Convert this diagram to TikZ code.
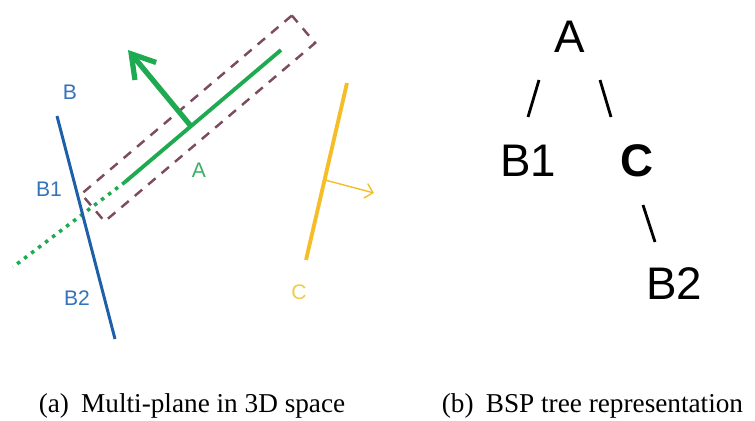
\documentclass[tikz,border=0pt]{standalone}
\usepackage{fontspec}
\setmainfont{Liberation Sans}
\newfontfamily\captionfont{Liberation Serif}
\usepackage{xcolor}
\definecolor{planegreen}{RGB}{30,170,80}
\definecolor{labelgreen}{RGB}{60,175,100}
\definecolor{planeblue}{RGB}{30,95,170}
\definecolor{labelblue}{RGB}{50,115,185}
\definecolor{planeyellow}{RGB}{245,190,40}
\definecolor{labelyellow}{RGB}{235,205,80}
\definecolor{boxmauve}{RGB}{125,75,95}
\usetikzlibrary{arrows.meta,positioning,calc}

\begin{document}
\begin{tikzpicture}[
  planelabel/.style={font=\fontsize{12}{14}\selectfont, inner sep=0pt},
  treenode/.style={font=\fontsize{26}{30}\selectfont, inner sep=0pt},
  treeedge/.style={line width=1.6pt},
  caption/.style={font=\captionfont\fontsize{15.5}{18}\selectfont, inner sep=0pt, anchor=base}
]
  \useasboundingbox (0,0) rectangle (15.1,8.4);

  % Plane A with its dashed box
  \node[draw=boxmauve, line width=1.4pt, dash pattern=on 5.5pt off 4.5pt, rotate=40.3, minimum width=5.52cm, minimum height=0.72cm, inner sep=0pt] (boxA) at (3.965,6.03) {};
  \draw[planegreen, line width=2.2pt] (2.50,4.76) -- (5.62,7.40);
  \draw[planegreen, line width=2pt, dash pattern=on 2pt off 3pt] (2.50,4.76) -- (0.26,3.06);
  \draw[planegreen, line width=3pt, -{Straight Barb[length=4.5mm,width=5.5mm]}] (3.80,5.90) -- (2.56,7.40);

  % Plane B
  \draw[planeblue, line width=1.7pt] (1.14,6.08) -- (2.30,1.62);

  % Plane C
  \draw[planeyellow, line width=2.2pt] (6.94,6.74) -- (6.12,3.20);
  \draw[planeyellow, line width=0.8pt, -{Straight Barb[length=1.5mm,width=3mm]}] (6.50,4.80) -- (7.48,4.54);

  % Plane labels
  \node[planelabel, text=labelblue] (labB) at (1.40,6.56) {B};
  \node[planelabel, text=labelblue] (labB1) at (0.98,4.62) {B1};
  \node[planelabel, text=labelblue] (labB2) at (1.54,2.44) {B2};
  \node[planelabel, text=labelgreen] (labA) at (3.98,5.00) {A};
  \node[planelabel, text=labelyellow] (labC) at (5.98,2.56) {C};

  % BSP tree
  \node[treenode] (A) at (11.40,7.66) {A};
  \node[treenode] (B1) at (10.56,5.18) {B1};
  \node[treenode, font=\fontsize{26}{30}\selectfont\bfseries] (C) at (12.74,5.18) {C};
  \node[treenode] (B2) at (13.48,2.72) {B2};

  \draw[treeedge] ([shift={(-0.62,-0.86)}]A.center) -- ([shift={(0,0.88)}]B1.center);
  \draw[treeedge] ([shift={(0.60,-0.86)}]A.center) -- ([shift={(-0.52,0.88)}]C.center);
  \draw[treeedge] ([shift={(0.12,-0.88)}]C.center) -- ([shift={(-0.38,0.84)}]B2.center);

  % Captions
  \node[caption] (capA) at (3.84,0.16) {(a)\hspace{0.45em}Multi-plane in 3D space};
  \node[caption] (capB) at (11.85,0.16) {(b)\hspace{0.45em}BSP tree representation};
\end{tikzpicture}
\end{document}
